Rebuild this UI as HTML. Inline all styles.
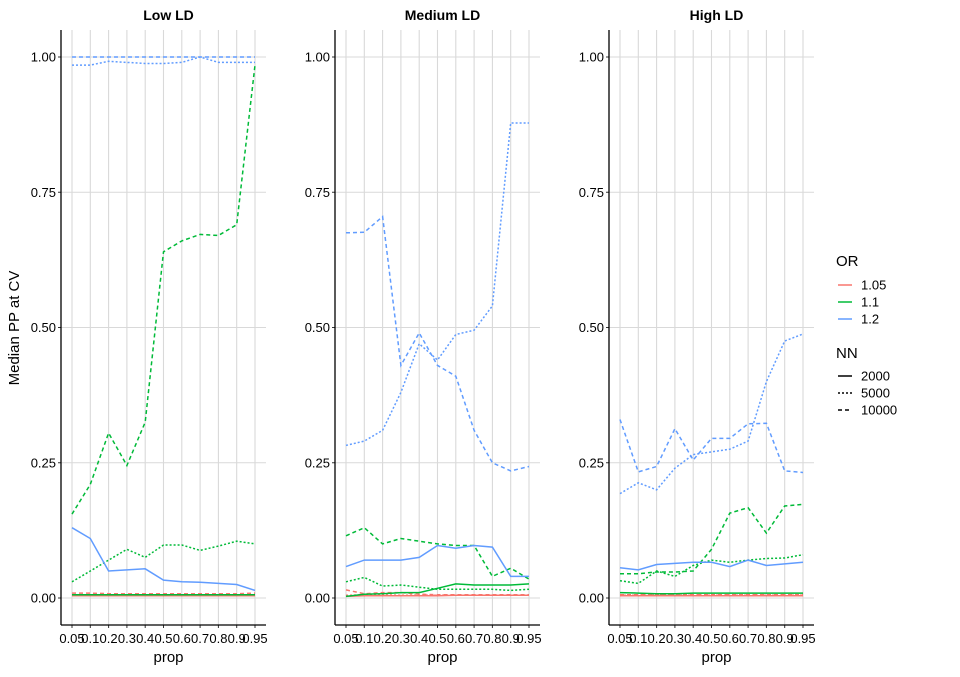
<!DOCTYPE html>
<html><head><meta charset="utf-8"><style>
body{margin:0;background:#fff;font-family:"Liberation Sans",Arial,sans-serif}
svg text{font-family:"Liberation Sans",Arial,sans-serif}
</style></head><body>
<svg id="chart" width="960" height="672" xmlns="http://www.w3.org/2000/svg"></svg>
<script>
const categories=["0.05","0.1","0.2","0.3","0.4","0.5","0.6","0.7","0.8","0.9","0.95"];
const panelTitles=["Low LD","Medium LD","High LD"];
const yTicks=[0,0.25,0.5,0.75,1];
const yTickLabels=["0.00","0.25","0.50","0.75","1.00"];
const orLevels=["1.05","1.1","1.2"];
const nnLevels=["2000","5000","10000"];
// Low LD
const low_105_2000=[.004,.004,.004,.004,.004,.004,.004,.004,.004,.004,.004];
const low_105_5000=[.006,.006,.006,.006,.006,.006,.006,.006,.006,.006,.006];
const low_105_10000=[.009,.009,.008,.008,.008,.008,.008,.008,.008,.008,.009];
const low_11_2000=[.006,.006,.006,.006,.006,.006,.006,.006,.006,.006,.006];
const low_11_5000=[.03,.05,.07,.09,.075,.098,.098,.088,.096,.105,.1];
const low_11_10000=[.155,.21,.305,.245,.325,.64,.66,.672,.67,.69,.985];
const low_12_2000=[.13,.11,.05,.052,.054,.033,.03,.029,.027,.025,.014];
const low_12_5000=[.985,.985,.992,.99,.988,.988,.99,1.0,.99,.99,.99];
const low_12_10000=[1,1,1,1,1,1,1,1,1,1,1];
// Medium LD
const med_105_2000=[.003,.004,.004,.004,.004,.004,.005,.005,.005,.005,.005];
const med_105_5000=[.005,.006,.006,.005,.005,.005,.005,.005,.005,.005,.005];
const med_105_10000=[.015,.008,.01,.01,.007,.006,.006,.006,.006,.006,.006];
const med_11_2000=[.003,.007,.008,.01,.01,.018,.026,.024,.024,.024,.026];
const med_11_5000=[.03,.038,.022,.024,.02,.016,.016,.016,.016,.014,.016];
const med_11_10000=[.115,.13,.1,.11,.105,.1,.097,.097,.04,.055,.035];
const med_12_2000=[.058,.07,.07,.07,.075,.097,.092,.097,.094,.04,.04];
const med_12_5000=[.282,.29,.31,.38,.47,.44,.487,.495,.54,.878,.878];
const med_12_10000=[.675,.676,.705,.43,.49,.43,.41,.31,.25,.235,.243];
// High LD
const high_105_2000=[.004,.004,.004,.004,.004,.004,.004,.004,.004,.004,.004];
const high_105_5000=[.005,.005,.005,.005,.005,.005,.005,.005,.005,.005,.005];
const high_105_10000=[.006,.006,.006,.006,.006,.006,.006,.006,.006,.006,.006];
const high_11_2000=[.01,.009,.008,.008,.009,.009,.009,.009,.009,.009,.009];
const high_11_5000=[.032,.027,.05,.04,.06,.07,.066,.07,.073,.074,.08];
const high_11_10000=[.045,.045,.048,.048,.05,.09,.157,.167,.12,.17,.173];
const high_12_2000=[.056,.052,.062,.064,.066,.066,.058,.07,.06,.063,.066];
const high_12_5000=[.193,.213,.2,.24,.265,.27,.275,.29,.4,.475,.488];
const high_12_10000=[.33,.233,.243,.313,.255,.295,.295,.322,.323,.235,.232];

const panels=[
 [[low_105_2000,low_105_5000,low_105_10000],[low_11_2000,low_11_5000,low_11_10000],[low_12_2000,low_12_5000,low_12_10000]],
 [[med_105_2000,med_105_5000,med_105_10000],[med_11_2000,med_11_5000,med_11_10000],[med_12_2000,med_12_5000,med_12_10000]],
 [[high_105_2000,high_105_5000,high_105_10000],[high_11_2000,high_11_5000,high_11_10000],[high_12_2000,high_12_5000,high_12_10000]]
];
const colors=["#F8766D","#00BA38","#619CFF"];
const dashes=["none","2,2","4,3"];
const NS="http://www.w3.org/2000/svg";
const svg=document.getElementById('chart');
function mk(tag,attrs,parent){const e=document.createElementNS(NS,tag);for(const k in attrs)e.setAttribute(k,attrs[k]);(parent||svg).appendChild(e);return e;}
const panelLeft=[61,335,609];
const pw=205, plotTop=30, plotBottom=625;
function yScale(v){return 598-v*541;}
function xScale(p,i){return panelLeft[p]+11+i*(183/(categories.length-1));}
panels.forEach((pd,p)=>{
  const g=mk('g',{});
  
  
  const L=panelLeft[p];
  yTicks.forEach((t,i)=>{
    const l=mk('line',{x1:L,x2:L+pw,y1:yScale(t),y2:yScale(t),stroke:'#d9d9d9','stroke-width':1.1},g);
    
    
    mk('line',{x1:L-3,x2:L,y1:yScale(t),y2:yScale(t),stroke:'#333','stroke-width':1},g);
    const tx=mk('text',{x:L-5,y:yScale(t)+4.5,'text-anchor':'end','font-size':13,fill:'#000'},g);
    tx.textContent=yTickLabels[i];
    
    
  });
  categories.forEach((c,i)=>{
    const x=xScale(p,i);
    const l=mk('line',{x1:x,x2:x,y1:plotTop,y2:plotBottom,stroke:'#d9d9d9','stroke-width':1.1},g);
    
    
    mk('line',{x1:x,x2:x,y1:plotBottom,y2:plotBottom+3,stroke:'#333','stroke-width':1},g);
    const tx=mk('text',{x:x,y:plotBottom+18,'text-anchor':'middle','font-size':13,fill:'#000'},g);
    tx.textContent=c;
    
    
  });
  pd.forEach((orSeries,oi)=>{
    orSeries.forEach((vals,ni)=>{
      const pts=vals.map((v,i)=>xScale(p,i).toFixed(1)+','+yScale(v).toFixed(1)).join(' ');
      const pl=mk('polyline',{points:pts,fill:'none',stroke:colors[oi],'stroke-width':1.5,'stroke-dasharray':dashes[ni]},g);
      
      
    });
  });
  mk('line',{x1:L,x2:L,y1:plotTop,y2:plotBottom,stroke:'#000','stroke-width':1.3},g);
  mk('line',{x1:L,x2:L+pw,y1:plotBottom,y2:plotBottom,stroke:'#000','stroke-width':1.3},g);
  const t=mk('text',{x:L+pw/2+5,y:20,'text-anchor':'middle','font-size':14,'font-weight':'bold',fill:'#000'},g);
  t.textContent=panelTitles[p];
  
  
  const xt=mk('text',{x:L+pw/2+5,y:662,'text-anchor':'middle','font-size':15,fill:'#000'},g);
  xt.textContent='prop';
  
  
});
const yt=mk('text',{x:0,y:0,'text-anchor':'middle','font-size':15,fill:'#000',transform:'translate(19,328) rotate(-90)'});
yt.textContent='Median PP at CV';


// legend
const lg=mk('g',{});


const ot=mk('text',{x:836,y:266,'font-size':15,fill:'#000'},lg);ot.textContent='OR';
orLevels.forEach((o,i)=>{
  const y=285+i*17;
  const e=mk('g',{},lg);
  
  
  mk('line',{x1:838,x2:852,y1:y,y2:y,stroke:colors[i],'stroke-width':1.5},e);
  const t=mk('text',{x:861,y:y+4.5,'font-size':13,fill:'#000'},e);t.textContent=o;
});
const nt=mk('text',{x:836,y:358,'font-size':15,fill:'#000'},lg);nt.textContent='NN';
nnLevels.forEach((n,i)=>{
  const y=376+i*17;
  const e=mk('g',{},lg);
  
  
  mk('line',{x1:838,x2:852,y1:y,y2:y,stroke:'#000','stroke-width':1.5,'stroke-dasharray':dashes[i]},e);
  const t=mk('text',{x:861,y:y+4.5,'font-size':13,fill:'#000'},e);t.textContent=n;
});
</script>
</body></html>
